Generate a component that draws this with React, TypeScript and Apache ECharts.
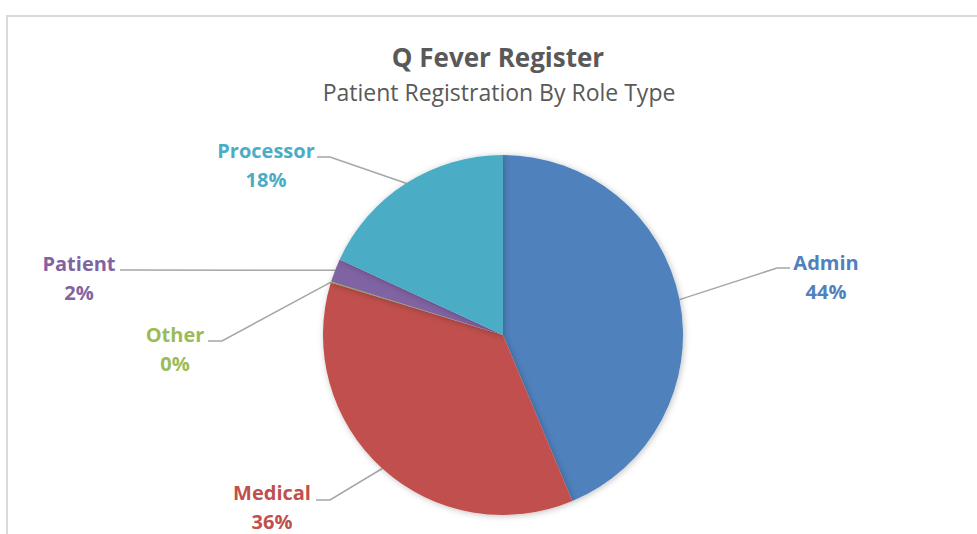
import React, { useEffect, useRef } from 'react';
import * as echarts from 'echarts';

const categories = ['Admin', 'Medical', 'Other', 'Patient', 'Processor'];
const shares = [43.7, 36.0, 0.1, 2.1, 18.1];
const colors = ['#4F81BD', '#C0504D', '#9BBB59', '#8064A2', '#4BACC6'];
const titleText = 'Q Fever Register';
const subtitleText = 'Patient Registration By Role Type';

// label block centres and leader-line bend/end points (layout only)
const labelCenters = [[826, 277], [272, 507], [175, 349], [79, 278], [266, 165]];
const lineBends = [
  [[777, 268], [790, 268]],
  [[330, 500], [316, 500]],
  [[222, 341], [208, 341]],
  [[125, 270], [120, 270]],
  [[330, 157], [317, 157]],
];

const FONT = '"Open Sans", Lato, sans-serif';

export default function App() {
  const ref = useRef<HTMLDivElement>(null);
  useEffect(() => {
    if (!ref.current) return;
    const chart = echarts.init(ref.current, undefined, { renderer: 'svg' });
    const data = categories.map((name, i) => ({
      name,
      value: shares[i],
      itemStyle: { color: colors[i] },
      label: { color: colors[i] },
    }));
    chart.setOption({
      animation: false,
      backgroundColor: '#ffffff',
      graphic: [
        {
          type: 'rect',
          shape: { x: 7, y: 16, width: 1000, height: 560 },
          style: { fill: 'none', stroke: '#d9d9d9', lineWidth: 2 },
          silent: true,
        },
        {
          type: 'text',
          x: 498,
          y: 57,
          silent: true,
          style: {
            text: titleText,
            fontFamily: FONT,
            fontSize: 26,
            fontWeight: 'bold',
            fill: '#595959',
            align: 'center',
            verticalAlign: 'middle',
          },
        },
        {
          type: 'text',
          x: 499,
          y: 92,
          silent: true,
          style: {
            text: subtitleText,
            fontFamily: FONT,
            fontSize: 23,
            fill: '#595959',
            align: 'center',
            verticalAlign: 'middle',
          },
        },
      ],
      series: [
        {
          type: 'pie',
          center: [503, 335],
          radius: 180,
          startAngle: 90,
          clockwise: true,
          data,
          itemStyle: {
            borderWidth: 0,
            shadowBlur: 6,
            shadowColor: 'rgba(0,0,0,0.25)',
            shadowOffsetX: 1,
            shadowOffsetY: 1,
          },
          label: {
            show: true,
            position: 'outside',
            alignTo: 'none',
            fontFamily: FONT,
            fontSize: 20,
            fontWeight: 'bold',
            lineHeight: 29,
            formatter: (p: any) => `${p.name}\n${Math.round(p.percent)}%`,
          },
          labelLine: {
            show: true,
            length: 20,
            length2: 10,
            lineStyle: { color: '#a6a6a6', width: 1.5 },
          },
          labelLayout: (p: any) => {
            const i = p.dataIndex;
            const pts = p.labelLinePoints;
            const start = pts && pts[0] ? pts[0] : lineBends[i][0];
            return {
              x: labelCenters[i][0],
              y: labelCenters[i][1],
              align: 'center',
              verticalAlign: 'middle',
              labelLinePoints: [start, lineBends[i][0], lineBends[i][1]],
            };
          },
          emphasis: { disabled: true },
        },
      ],
    });
    return () => chart.dispose();
  }, []);
  return (
    <div
      ref={ref}
      style={{ position: 'fixed', left: 0, top: 0, width: 977, height: 534 }}
    />
  );
}
